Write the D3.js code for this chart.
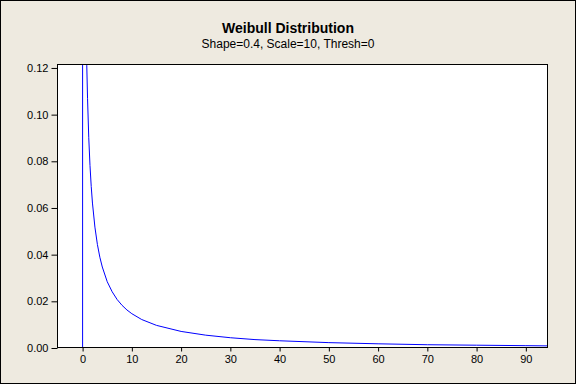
<!DOCTYPE html>
<html>
<head>
<meta charset="utf-8">
<script src="https://cdn.jsdelivr.net/npm/d3@7"></script>
<style>
  body { margin: 0; background: #fff; }
  svg text { font-family: "Liberation Sans", Arial, sans-serif; fill: #000; }
</style>
</head>
<body>
<div id="chart"></div>
<script>
// density values (x, f(x))
var xVals = [0, 0, 0.2, 0.5, 0.85, 1, 1.25, 1.5, 1.75, 2, 2.5, 3, 3.5, 4, 5, 6, 7, 8, 9, 10, 12, 15, 20, 25, 30, 35, 40, 50, 60, 70, 80, 90, 95];
var yVals = [0, 1.0, 0.339, 0.1785, 0.1209, 0.1070, 0.0901, 0.0782, 0.0692, 0.0621, 0.0518, 0.0444, 0.0389, 0.0347, 0.0284, 0.0241, 0.0208, 0.0183, 0.0163, 0.0147, 0.0122, 0.0097, 0.0071, 0.0055, 0.0044, 0.0036, 0.0031, 0.0023, 0.0018, 0.0014, 0.0012, 0.0010, 0.0009];
var xTicks = [0, 10, 20, 30, 40, 50, 60, 70, 80, 90];
var yTicks = [0, 0.02, 0.04, 0.06, 0.08, 0.10, 0.12];
var title = "Weibull Distribution";
var subtitle = "Shape=0.4, Scale=10, Thresh=0";

var width = 576, height = 384;
var plotL = 57, plotR = 548, plotT = 64, plotB = 348;

var svg = d3.select("#chart").append("svg").attr("width", width).attr("height", height);

// background + frame
svg.append("rect").attr("x", 0.5).attr("y", 0.5).attr("width", width - 1).attr("height", height - 1)
    .attr("fill", "#eeeae0").attr("stroke", "#000");

var x = d3.scaleLinear().domain([-5.2, 94.5]).range([plotL, plotR]);
var y = d3.scaleLinear().domain([0, 0.1217]).range([plotB, plotT]);

svg.append("rect").attr("x", plotL).attr("y", plotT).attr("width", plotR - plotL).attr("height", plotB - plotT)
    .attr("fill", "#fff");

svg.append("clipPath").attr("id", "clip")
    .append("rect").attr("x", plotL).attr("y", plotT).attr("width", plotR - plotL).attr("height", plotB - plotT);

var pts = xVals.map(function(d, i) { return [d, yVals[i]]; });

var line = d3.line()
    .x(function(d) { return x(d[0]); })
    .y(function(d) { return y(d[1]); });

svg.append("path").datum(pts)
    .attr("clip-path", "url(#clip)")
    .attr("d", line)
    .attr("fill", "none")
    .attr("stroke", "#0000ff")
    .attr("stroke-width", 1);

svg.append("rect").attr("x", plotL + 0.5).attr("y", plotT + 0.5).attr("width", plotR - plotL - 1).attr("height", plotB - plotT - 1)
    .attr("fill", "none").attr("stroke", "#000");

// axes
var xAxis = d3.axisBottom(x).tickValues(xTicks).tickSize(4).tickSizeOuter(0).tickPadding(4);
var gx = svg.append("g").attr("transform", "translate(0," + (plotB - 0.5) + ")").call(xAxis);
var yAxis = d3.axisLeft(y).tickValues(yTicks).tickFormat(d3.format(".2f")).tickSize(6).tickSizeOuter(0).tickPadding(3);
var gy = svg.append("g").attr("transform", "translate(" + (plotL + 0.5) + ",0)").call(yAxis);

[gx, gy].forEach(function(g) {
    g.select(".domain").remove();
    g.selectAll("line").attr("stroke", "#000");
    g.selectAll("text").attr("font-size", "11px").attr("fill", "#000")
        .style("font-family", "'Liberation Sans', Arial, sans-serif");
});

svg.append("text").attr("x", 288).attr("y", 33).attr("text-anchor", "middle")
    .attr("font-size", "14px").attr("font-weight", "bold").text(title);
svg.append("text").attr("x", 288).attr("y", 48).attr("text-anchor", "middle")
    .attr("font-size", "12px").text(subtitle);
</script>
</body>
</html>
